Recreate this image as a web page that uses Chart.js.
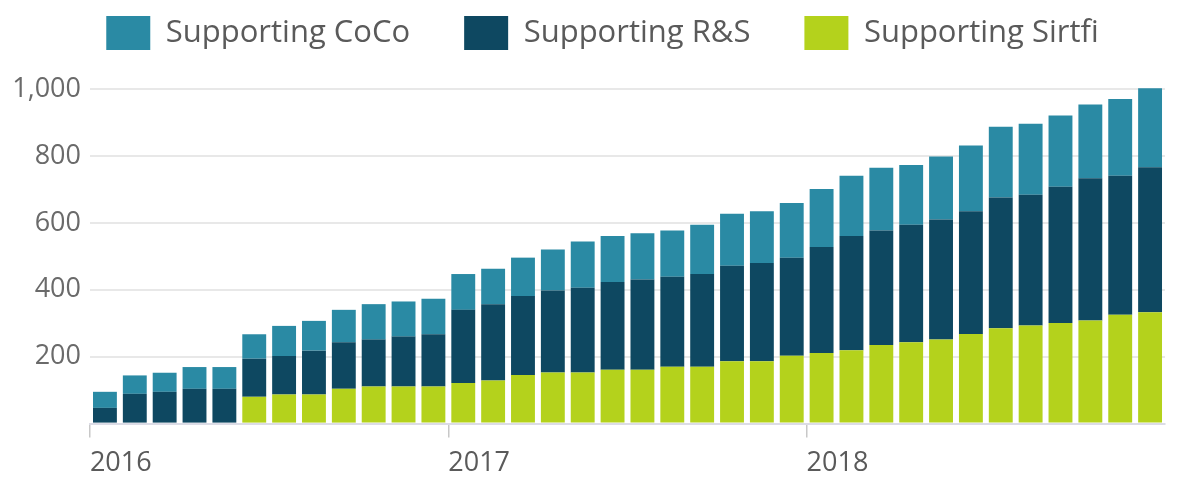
<!DOCTYPE html>
<html>
<head>
<meta charset="utf-8">
<script src="https://cdn.jsdelivr.net/npm/chart.js@4.4.1/dist/chart.umd.min.js"></script>
<style>
  html, body { margin: 0; padding: 0; background: #fff; }
  #wrap { width: 1178px; height: 483px; }
</style>
</head>
<body>
<div id="wrap"><canvas id="chart"></canvas></div>
<script>
// one bar per month, Jan 2016 .. Dec 2018
const months = [
  "2016-01", "2016-02", "2016-03", "2016-04", "2016-05", "2016-06",
  "2016-07", "2016-08", "2016-09", "2016-10", "2016-11", "2016-12",
  "2017-01", "2017-02", "2017-03", "2017-04", "2017-05", "2017-06",
  "2017-07", "2017-08", "2017-09", "2017-10", "2017-11", "2017-12",
  "2018-01", "2018-02", "2018-03", "2018-04", "2018-05", "2018-06",
  "2018-07", "2018-08", "2018-09", "2018-10", "2018-11", "2018-12"
];

// segment heights (stacked: Sirtfi at the bottom, then R&S, then CoCo)
const sirtfi = [
  0, 0, 0, 0, 0, 80, 87, 87, 104, 111, 111, 111,
  121, 129, 145, 153, 153, 161, 161, 170, 170, 186, 186, 203,
  211, 219, 235, 243, 251, 268, 285, 293, 301, 308, 325, 333
];
const rands = [
  47, 89, 95, 104, 104, 114, 115, 131, 139, 140, 149, 156,
  219, 228, 236, 245, 253, 262, 270, 269, 277, 286, 294, 293,
  317, 342, 342, 351, 359, 367, 391, 391, 407, 425, 416, 433
];
const coco = [
  48, 55, 57, 65, 65, 73, 90, 89, 97, 106, 105, 106,
  107, 106, 115, 122, 138, 138, 138, 138, 147, 155, 155, 163,
  173, 180, 188, 179, 188, 196, 211, 212, 213, 221, 229, 236
];

const yTicks = [0, 200, 400, 600, 800, 1000];

// the legend uses labels.padding both between items and between rows,
// so pin its height here to keep the wide item spacing
const legendTweak = {
  id: "legendTweak",
  beforeLayout(chart) {
    const legend = chart.legend;
    if (legend && !legend._patched) {
      const fit = legend.fit;
      legend.fit = function () {
        fit.call(this);
        this.height = 127;
      };
      legend._patched = true;
    }
  },
  afterLayout(chart) {
    // centre the legend a little right of the canvas centre
    chart.legend.left += 40;
  }
};

const ctx = document.getElementById("chart");
const chart = new Chart(ctx, {
  type: "bar",
  data: {
    labels: months,
    datasets: [
      {
        label: "Supporting Sirtfi",
        data: sirtfi,
        backgroundColor: "#b4d21c"
      },
      {
        label: "Supporting R&S",
        data: rands,
        backgroundColor: "#0e4861"
      },
      {
        label: "Supporting CoCo",
        data: coco,
        backgroundColor: "#2a8aa4"
      }
    ]
  },
  options: {
    responsive: true,
    maintainAspectRatio: false,
    animation: false,
    layout: {
      padding: { top: -38, left: 0, right: 13, bottom: -7 }
    },
    datasets: {
      bar: {
        categoryPercentage: 1,
        barPercentage: 0.8,
        clip: false
      }
    },
    plugins: {
      legend: {
        position: "top",
        align: "center",
        reverse: true,
        labels: {
          boxWidth: 44,
          boxHeight: 34,
          padding: 54,
          color: "#5a5a5a",
          font: { family: "Open Sans", size: 31 }
        }
      },
      tooltip: { enabled: false }
    },
    scales: {
      x: {
        stacked: true,
        border: { display: true, color: "#dcdce6", width: 2 },
        grid: {
          offset: true,
          drawOnChartArea: false,
          tickLength: 14,
          lineWidth: 1.5,
          color: (c) => (c.index % 12 === 0 && c.index < months.length ? "#c8c8c8" : "rgba(0,0,0,0)")
        },
        ticks: {
          autoSkip: false,
          maxRotation: 0,
          align: "start",
          labelOffset: -15,
          padding: 10,
          color: "#5a5a5a",
          font: { family: "Open Sans", size: 27 },
          callback: function (value, index) {
            const m = months[index];
            return m.endsWith("-01") ? m.slice(0, 4) : "";
          }
        }
      },
      y: {
        stacked: true,
        min: 0,
        max: 1000,
        afterBuildTicks: (scale) => {
          scale.ticks = yTicks.map((v) => ({ value: v }));
        },
        afterFit: (scale) => {
          scale.width = 90;
        },
        border: { display: false },
        grid: {
          drawTicks: false,
          lineWidth: 2,
          color: (c) => (c.tick && c.tick.value === 0 ? "rgba(0,0,0,0)" : "#e8e8e8")
        },
        ticks: {
          padding: 9,
          color: "#6a6a6a",
          font: { family: "Open Sans", size: 27 },
          callback: (v) => (v === 0 ? "" : v.toLocaleString("en-US"))
        }
      }
    }
  },
  plugins: [legendTweak]
});
</script>
</body>
</html>
